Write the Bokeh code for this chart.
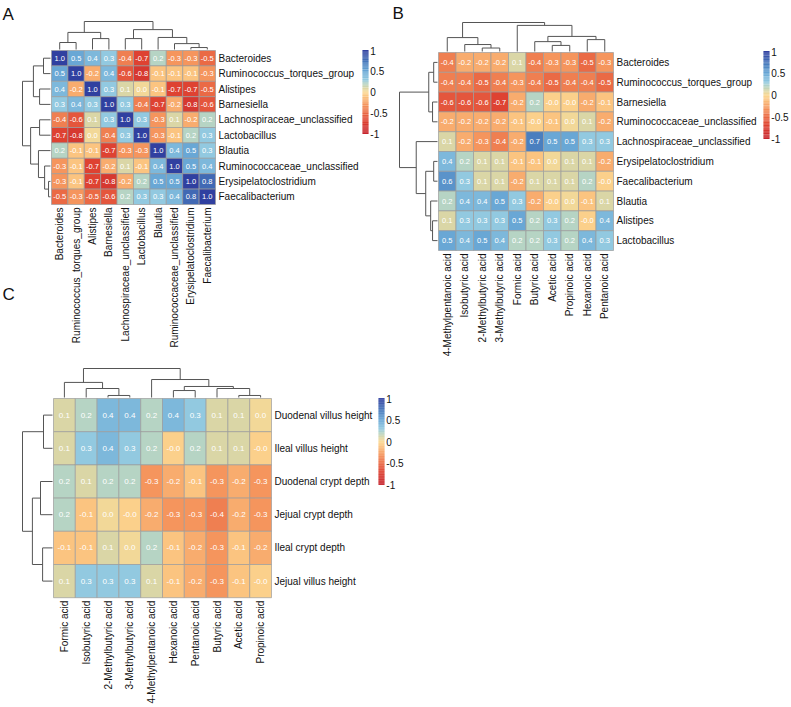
import numpy as np
from bokeh.plotting import figure
from bokeh.models import Range1d, LinearColorMapper, ColumnDataSource
from bokeh.transform import transform
from bokeh.core.properties import value
from bokeh.embed import file_html
from bokeh.resources import INLINE

# ---------------- data ----------------
a_labels = ["Bacteroides", "Ruminococcus_torques_group", "Alistipes", "Barnesiella",
            "Lachnospiraceae_unclassified", "Lactobacillus", "Blautia",
            "Ruminococcaceae_unclassified", "Erysipelatoclostridium", "Faecalibacterium"]
a_values = [
    [1.0, 0.5, 0.4, 0.3, -0.4, -0.7, 0.2, -0.3, -0.3, -0.5],
    [0.5, 1.0, -0.2, 0.4, -0.6, -0.8, -0.1, -0.1, -0.1, -0.3],
    [0.4, -0.2, 1.0, 0.3, 0.1, 0.03, -0.1, -0.7, -0.7, -0.5],
    [0.3, 0.4, 0.3, 1.0, 0.3, -0.4, -0.7, -0.2, -0.8, -0.6],
    [-0.4, -0.6, 0.1, 0.3, 1.0, 0.3, -0.3, 0.1, -0.2, 0.2],
    [-0.7, -0.8, 0.03, -0.4, 0.3, 1.0, -0.3, -0.1, 0.2, 0.3],
    [0.2, -0.1, -0.1, -0.7, -0.3, -0.3, 1.0, 0.4, 0.5, 0.3],
    [-0.3, -0.1, -0.7, -0.2, 0.1, -0.1, 0.4, 1.0, 0.5, 0.4],
    [-0.3, -0.1, -0.7, -0.8, -0.2, 0.2, 0.5, 0.5, 1.0, 0.8],
    [-0.5, -0.3, -0.5, -0.6, 0.2, 0.3, 0.3, 0.4, 0.8, 1.0],
]
# dendrogram merges (child_a, child_b, height) ; leaves = display order
a_tree = [(0, 1, 0.25), (2, 3, 0.39), (10, 11, 0.61), (4, 5, 0.39), (8, 9, 0.07),
          (7, 14, 0.21), (6, 15, 0.43), (13, 16, 0.71), (12, 17, 1.0)]

b_rows = ["Bacteroides", "Ruminococcus_torques_group", "Barnesiella",
          "Ruminococcaceae_unclassified", "Lachnospiraceae_unclassified",
          "Erysipelatoclostridium", "Faecalibacterium", "Blautia", "Alistipes", "Lactobacillus"]
b_cols = ["4-Methylpentanoic acid", "Isobutyric acid", "2-Methylbutyric acid",
          "3-Methylbutyric acid", "Formic acid", "Butyric acid", "Acetic acid",
          "Propinoic acid", "Hexanoic acid", "Pentanoic acid"]
b_values = [
    [-0.4, -0.2, -0.2, -0.2, 0.1, -0.4, -0.3, -0.3, -0.5, -0.3],
    [-0.4, -0.4, -0.5, -0.4, -0.3, -0.4, -0.5, -0.4, -0.4, -0.5],
    [-0.6, -0.6, -0.6, -0.7, -0.2, 0.2, -0.04, -0.04, -0.2, -0.1],
    [-0.2, -0.2, -0.2, -0.2, -0.1, -0.04, -0.1, 0.03, 0.1, -0.2],
    [0.1, -0.2, -0.3, -0.4, -0.2, 0.7, 0.5, 0.5, 0.3, 0.3],
    [0.4, 0.2, 0.1, 0.1, -0.1, -0.1, 0.03, 0.1, 0.1, -0.2],
    [0.6, 0.3, 0.1, 0.1, -0.2, 0.1, 0.1, 0.1, 0.2, -0.04],
    [0.2, 0.4, 0.4, 0.5, 0.3, -0.2, -0.04, 0.03, -0.1, 0.1],
    [0.1, 0.3, 0.3, 0.3, 0.5, 0.2, 0.3, 0.2, -0.04, 0.4],
    [0.5, 0.4, 0.5, 0.4, 0.2, 0.2, 0.3, 0.2, 0.4, 0.3],
]
b_col_tree = [(2, 3, 0.12), (1, 10, 0.24), (0, 11, 0.48), (6, 7, 0.21), (5, 13, 0.34),
              (8, 9, 0.41), (14, 15, 0.52), (4, 16, 0.90), (12, 17, 1.0)]
b_row_tree = [(0, 1, 0.10), (2, 3, 0.13), (10, 11, 0.23), (5, 6, 0.10), (8, 9, 0.13),
              (7, 14, 0.18), (13, 15, 0.31), (4, 16, 0.56), (12, 17, 1.0)]

c_rows = ["Duodenal villus height", "Ileal villus height", "Duodenal crypt depth",
          "Jejual crypt depth", "Ileal crypt depth", "Jejual villus height"]
c_cols = ["Formic acid", "Isobutyric acid", "2-Methylbutyric acid", "3-Methylbutyric acid",
          "4-Methylpentanoic acid", "Hexanoic acid", "Pentanoic acid", "Butyric acid",
          "Acetic acid", "Propinoic acid"]
c_values = [
    [0.1, 0.2, 0.4, 0.4, 0.2, 0.4, 0.3, 0.1, 0.1, 0.03],
    [0.1, 0.3, 0.4, 0.3, 0.2, -0.04, 0.2, 0.1, 0.1, -0.04],
    [0.2, 0.1, 0.2, 0.2, -0.3, -0.2, -0.1, -0.3, -0.2, -0.3],
    [0.2, -0.1, 0.03, -0.04, -0.2, -0.3, -0.3, -0.4, -0.2, -0.3],
    [-0.1, -0.1, 0.1, 0.03, 0.2, -0.1, -0.2, -0.3, -0.1, -0.2],
    [0.1, 0.3, 0.3, 0.3, 0.1, -0.1, -0.2, -0.3, -0.1, -0.04],
]
c_col_tree = [(2, 3, 0.07), (1, 10, 0.31), (0, 11, 0.52), (5, 6, 0.24), (8, 9, 0.07),
              (7, 14, 0.31), (13, 15, 0.38), (4, 16, 0.62), (12, 17, 1.0)]
c_row_tree = [(0, 1, 0.30), (2, 3, 0.40), (4, 5, 0.33), (7, 8, 0.67), (6, 9, 1.0)]

legend_ticks = [1, 0.5, 0, -0.5, -1]
legend_labels = ["1", "0.5", "0", "-0.5", "-1"]
panel_letters = ["A", "B", "C"]

# ---------------- style ----------------
FONT = "Liberation Sans"
anchors = [(-1.0, "#c6242d"), (-0.7, "#de4232"), (-0.5, "#ea6a45"), (-0.3, "#f5955d"),
           (-0.1, "#fbc480"), (0.0, "#fbd993"), (0.1, "#d9d6a6"), (0.2, "#b6d4c4"),
           (0.3, "#92c9e0"), (0.5, "#6aa8d6"), (0.7, "#4a7fbf"), (1.0, "#3040a0")]


def hex2rgb(h):
    return [int(h[i:i + 2], 16) for i in (1, 3, 5)]


av = np.array([a for a, _ in anchors])
ac = np.array([hex2rgb(c) for _, c in anchors], dtype=float)
palette = []
for g in np.linspace(-1, 1, 256):
    rgb = [np.interp(g, av, ac[:, k]) for k in range(3)]
    palette.append("#%02x%02x%02x" % tuple(int(round(c)) for c in rgb))
mapper = LinearColorMapper(palette=palette, low=-1, high=1)

W, H = 790, 706
OFF = 0
p = figure(width=W, height=H, output_backend="svg", toolbar_location=None,
           x_range=Range1d(0, W), y_range=Range1d(H, 0), min_border=0,
           x_axis_location=None, y_axis_location=None)
p.grid.visible = False
p.outline_line_color = None
p.background_fill_color = "white"
p.border_fill_color = "white"

xr, yr = {}, {}


def lin_range(name, axis, ref_px, unit_px):
    p0 = ref_px - OFF
    if axis == "x":
        xr[name] = Range1d(start=-p0 / unit_px, end=(W - p0) / unit_px)
    else:
        yr[name] = Range1d(start=(H - p0) / unit_px, end=-p0 / unit_px)


# panel geometry (reference pixels)
panels = {
    "A": dict(x0=51, y0=50, cw=16.4, ch=15.4, tree_top=28, tree_left=28, cb=(362, 50, 133),
              letter=(2, 4)),
    "B": dict(x0=438, y0=52, cw=17.5, ch=19.8, tree_top=29, tree_left=38, cb=(763, 51, 138),
              letter=(392, 3)),
    "C": dict(x0=53, y0=398, cw=21.8, ch=33.2, tree_top=29, tree_left=30, cb=(378, 398, 484),
              letter=(2, 284)),
}
for k, g in panels.items():
    lin_range(k + "x", "x", g["x0"], g["cw"])
    lin_range(k + "y", "y", g["y0"], g["ch"])
    lin_range(k + "tt", "y", g["y0"] - 1, -g["tree_top"])
    lin_range(k + "tl", "x", g["x0"] - 1, -g["tree_left"])
    cx, ctop, cbot = g["cb"]
    lin_range(k + "cbx", "x", cx, 6)
    lin_range(k + "cby", "y", (ctop + cbot) / 2, -(cbot - ctop) / 2)
    lin_range(k + "lx", "x", g["letter"][0], 1)
    lin_range(k + "ly", "y", g["letter"][1], 1)
p.extra_x_ranges = xr
p.extra_y_ranges = yr


def heatmap(k, vals, rows, cols, fs):
    vals = np.array(vals)
    nr, nc = vals.shape
    X, Y = np.meshgrid(np.arange(nc), np.arange(nr))
    v = vals.ravel()
    src = ColumnDataSource(dict(x=X.ravel() + 0.5, y=Y.ravel() + 0.5, v=v,
                                t=["%.1f" % a for a in v]))
    kw = dict(x_range_name=k + "x", y_range_name=k + "y")
    p.rect(x="x", y="y", width=1, height=1, source=src, fill_color=transform("v", mapper),
           line_color="#9c9c9c", line_width=0.7, **kw)
    p.text(x="x", y="y", text="t", source=src, text_color="white", text_font_size=fs,
           text_align="center", text_baseline="middle", text_font=value(FONT), **kw)
    g = panels[k]
    rsrc = ColumnDataSource(dict(x=[nc + 3 / g["cw"]] * nr, y=np.arange(nr) + 0.5, t=rows))
    p.text(x="x", y="y", text="t", source=rsrc, text_font_size="10px", text_color="#111111",
           text_align="left", text_baseline="middle", text_font=value(FONT), **kw)
    csrc = ColumnDataSource(dict(x=np.arange(nc) + 0.5, y=[nr + 3 / g["ch"]] * nc, t=cols))
    p.text(x="x", y="y", text="t", source=csrc, text_font_size="10px", text_color="#111111",
           angle=np.pi / 2, text_align="right", text_baseline="middle",
           text_font=value(FONT), **kw)


def dendro(k, merges, n, orient):
    pos = {i: i + 0.5 for i in range(n)}
    hgt = {i: 0.0 for i in range(n)}
    xs, ys = [], []
    for j, (a, b, h) in enumerate(merges):
        c = n + j
        sp = [pos[a], pos[a], pos[b], pos[b]]
        sh = [hgt[a], h, h, hgt[b]]
        pos[c] = (pos[a] + pos[b]) / 2
        hgt[c] = h
        if orient == "top":
            xs.append(sp)
            ys.append(sh)
        else:
            xs.append(sh)
            ys.append(sp)
    if orient == "top":
        kw = dict(x_range_name=k + "x", y_range_name=k + "tt")
    else:
        kw = dict(x_range_name=k + "tl", y_range_name=k + "y")
    p.multi_line(xs, ys, line_color="#555555", line_width=1, **kw)


def colorbar(k):
    vs = np.linspace(-1, 1, 121)
    src = ColumnDataSource(dict(x=[0.5] * len(vs), y=vs))
    kw = dict(x_range_name=k + "cbx", y_range_name=k + "cby")
    p.rect(x="x", y="y", width=1, height=2.6 / len(vs), source=src,
           fill_color=transform("y", mapper), line_color=None, **kw)
    tsrc = ColumnDataSource(dict(x=[1.3] * len(legend_ticks), y=legend_ticks, t=legend_labels))
    p.text(x="x", y="y", text="t", source=tsrc, text_font_size="10px", text_color="#111111",
           text_align="left", text_baseline="middle", text_font=value(FONT), **kw)


def letter(k, t):
    p.text(x=[0], y=[0], text=[t], text_font_size="17px", text_color="#111111",
           text_align="left", text_baseline="top", text_font=value(FONT),
           x_range_name=k + "lx", y_range_name=k + "ly")


heatmap("A", a_values, a_labels, a_labels, "7.5px")
dendro("A", a_tree, 10, "top")
dendro("A", a_tree, 10, "left")
colorbar("A")

heatmap("B", b_values, b_rows, b_cols, "7.5px")
dendro("B", b_col_tree, 10, "top")
dendro("B", b_row_tree, 10, "left")
colorbar("B")

heatmap("C", c_values, c_rows, c_cols, "8px")
dendro("C", c_col_tree, 10, "top")
dendro("C", c_row_tree, 6, "left")
colorbar("C")

for k, t in zip(["A", "B", "C"], panel_letters):
    letter(k, t)

open("out.html", "w").write(file_html(p, INLINE))
